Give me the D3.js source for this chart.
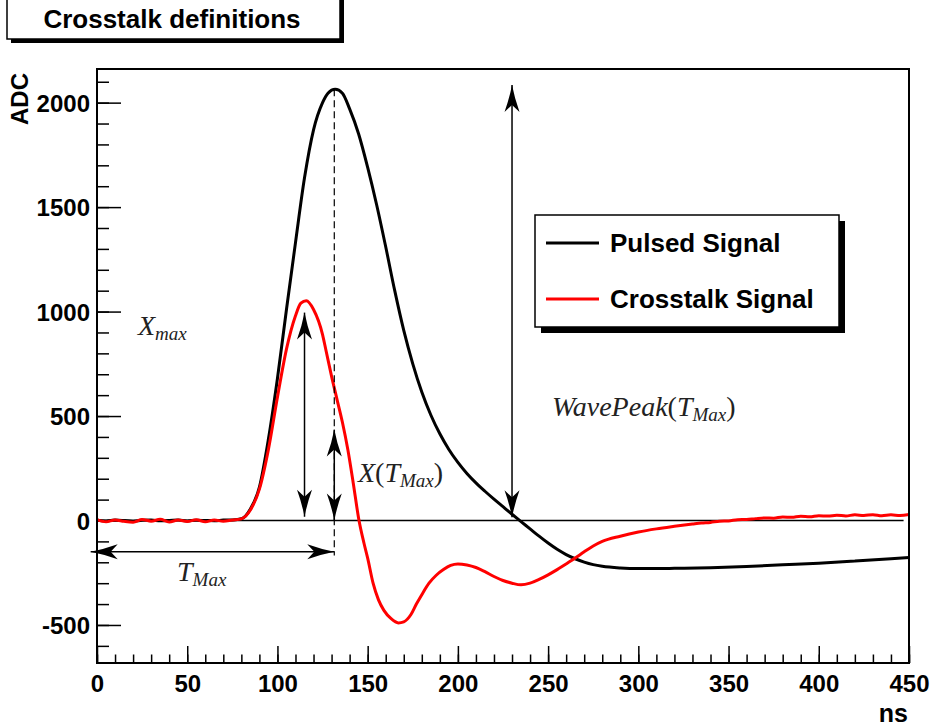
<!DOCTYPE html>
<html>
<head>
<meta charset="utf-8">
<script src="https://cdn.jsdelivr.net/npm/d3@7"></script>
<style>
  body { margin: 0; background: #fff; }
  .chart text { font-family: 'Liberation Sans', Arial, sans-serif; font-weight: bold; fill: #000; }
  .chart text.math { font-family: 'Liberation Serif', 'Times New Roman', serif; font-weight: normal; font-style: italic; fill: #222; }
</style>
</head>
<body>
<div class="chart"></div>
<script>
// pulsed (black) signal
const pulsed_ns = [0, 5, 10, 15, 20, 25, 30, 35, 40, 45, 50, 55, 60, 65, 70, 75,
  80, 85, 90, 95, 100, 105, 110, 115, 120, 125, 128, 132, 136, 140, 145, 150, 155, 160,
  165, 170, 175, 180, 185, 190, 195, 200, 205, 210, 215, 220, 225, 230, 235, 240, 245,
  250, 255, 260, 265, 270, 275, 280, 290, 300, 310, 320, 340, 360, 380, 400, 420, 440, 450];
const pulsed_adc = [1, -2, 2, 0, -3, 1, 2, -1, 0, 2, -2, 1, 0, -1, 2, 3,
  8, 55, 160, 390, 680, 1010, 1330, 1640, 1870, 2000, 2045, 2064, 2045, 1970, 1850, 1690, 1510, 1310,
  1100, 910, 750, 615, 505, 415, 340, 278, 225, 180, 140, 102, 66, 30, -5, -40, -75,
  -108, -138, -163, -183, -199, -211, -219, -227, -230, -230, -229, -226, -220, -212, -204, -194, -183, -177];

// crosstalk (red) signal
const crosstalk_ns = [0, 5, 10, 15, 20, 25, 30, 35, 40, 45, 50, 55, 60, 65, 70, 75,
  80, 85, 90, 95, 100, 105, 110, 113, 116, 120, 125, 127, 130, 133, 136, 139, 142, 145, 148,
  150, 153, 156, 159, 163, 167, 170, 174, 177, 180, 184, 188, 192, 196, 200, 205, 210, 215,
  220, 225, 230, 235, 240, 245, 250, 255, 260, 265, 270, 275, 280, 290, 300, 310, 320,
  330, 335, 340, 345, 350, 355, 360, 365, 370, 375, 380, 385, 390, 395, 400, 405, 410,
  415, 420, 425, 430, 435, 440, 445, 450];
const crosstalk_adc = [4, -6, 3, -4, -8, 5, -3, 6, -7, 2, -5, 4, -6, 3, -4, 2,
  8, 50, 150, 340, 590, 820, 980, 1040, 1052, 1010, 890, 810, 690, 580, 470, 340, 180, 10, -110,
  -180, -300, -380, -430, -470, -490, -485, -450, -400, -355, -300, -262, -235, -215, -208, -213, -225, -245,
  -268, -287, -300, -308, -300, -282, -260, -235, -208, -180, -150, -122, -100, -75, -55, -40, -28,
  -17, -12, -9, -3, -2, 4, 5, 9, 12, 11, 17, 15, 20, 18, 23, 21, 25,
  22, 27, 24, 28, 23, 27, 24, 29];

const x_ticks = [0, 50, 100, 150, 200, 250, 300, 350, 400, 450];
const y_ticks = [-500, 0, 500, 1000, 1500, 2000];
const series_names = ['Pulsed Signal', 'Crosstalk Signal'];
const series_colors = ['#000000', '#ff0000'];

// annotation values (ns, ADC)
const t_max = 131.5;
const pulsed_peak = 2064;
const arrow_list = [
  { x1: 230, y1: 15, x2: 230, y2: 2085 },
  { x1: 115, y1: 18, x2: 115, y2: 995 },
  { x1: t_max, y1: 0, x2: t_max, y2: 435 },
  { x1: -3.5, y1: -150, x2: t_max, y2: -150 },
];

const width = 930;
const height = 727;

const margin = { top: 69, right: 21, bottom: 64, left: 97 };
const chart_width = width - margin.left - margin.right;
const chart_height = height - margin.top - margin.bottom;

const svg = d3
  .select('.chart')
  .append('svg')
  .attr('width', width)
  .attr('height', height);

const x = d3.scaleLinear().domain([0, 450]).range([0, chart_width]);
const y = d3.scaleLinear().domain([-682, 2161]).range([chart_height, 0]);

const focus = svg
  .append('g')
  .attr('transform', 'translate(' + margin.left + ',' + margin.top + ')');

// minor ticks
focus
  .append('g')
  .attr('transform', 'translate(0,' + chart_height + ')')
  .call(d3.axisBottom(x).tickValues(d3.range(0, 451, 10)).tickSize(-8.5).tickFormat(''))
  .call(g => g.select('.domain').remove());

focus
  .append('g')
  .call(d3.axisLeft(y).tickValues(d3.range(-600, 2161, 100)).tickSize(-12).tickFormat(''))
  .call(g => g.select('.domain').remove());

// major ticks + labels
const xAxis = focus
  .append('g')
  .attr('class', 'axis axis--x')
  .attr('transform', 'translate(0,' + chart_height + ')')
  .call(d3.axisBottom(x).tickValues(x_ticks).tickSize(-17).tickPadding(12).tickFormat(d => String(d)));
xAxis.select('.domain').remove();
xAxis.selectAll('text').style('font-size', '24px');

const yAxis = focus
  .append('g')
  .attr('class', 'axis axis--y')
  .call(d3.axisLeft(y).tickValues(y_ticks).tickSize(-24).tickPadding(7).tickFormat(d => String(d)));
yAxis.select('.domain').remove();
yAxis.selectAll('text').style('font-size', '24px').attr('dy', '0.36em');

focus.selectAll('.tick line').attr('stroke', '#000').attr('stroke-width', 1.5);

// zero line
focus
  .append('line')
  .attr('x1', x(0))
  .attr('x2', x(447))
  .attr('y1', y(0))
  .attr('y2', y(0))
  .attr('stroke', '#000')
  .attr('stroke-width', 1.5);

const line = d3
  .line()
  .curve(d3.curveMonotoneX)
  .x(d => x(d[0]))
  .y(d => y(d[1]));

focus
  .append('path')
  .datum(d3.zip(pulsed_ns, pulsed_adc))
  .attr('d', line)
  .attr('fill', 'none')
  .attr('stroke', series_colors[0])
  .attr('stroke-width', 3);

focus
  .append('path')
  .datum(d3.zip(crosstalk_ns, crosstalk_adc))
  .attr('d', line)
  .attr('fill', 'none')
  .attr('stroke', series_colors[1])
  .attr('stroke-width', 3);

// dashed line at T_max
focus
  .append('line')
  .attr('x1', x(t_max))
  .attr('x2', x(t_max))
  .attr('y1', y(pulsed_peak))
  .attr('y2', y(-168))
  .attr('stroke', '#000')
  .attr('stroke-width', 1.2)
  .attr('stroke-dasharray', '7,4');

// double arrows
const head = 'M0,0 Q-2.5,13 -7.5,27 L0,20 L7.5,27 Q2.5,13 0,0 Z';
arrow_list.forEach(function(a) {
  const px1 = x(a.x1), py1 = y(a.y1), px2 = x(a.x2), py2 = y(a.y2);
  focus
    .append('line')
    .attr('x1', px1)
    .attr('y1', py1)
    .attr('x2', px2)
    .attr('y2', py2)
    .attr('stroke', '#000')
    .attr('stroke-width', 1.5);
  const ang = Math.atan2(py2 - py1, px2 - px1) * 180 / Math.PI;
  // head at end 2 points along the line direction, head at end 1 points back
  focus
    .append('path')
    .attr('d', head)
    .attr('transform', 'translate(' + px2 + ',' + py2 + ') rotate(' + (ang - 90 + 180) + ')');
  focus
    .append('path')
    .attr('d', head)
    .attr('transform', 'translate(' + px1 + ',' + py1 + ') rotate(' + (ang - 90) + ')');
});

// frame
focus
  .append('rect')
  .attr('width', chart_width)
  .attr('height', chart_height)
  .attr('fill', 'none')
  .attr('stroke', '#000')
  .attr('stroke-width', 2);

// latex-like labels
function mathLabel(px, py, parts) {
  const t = svg.append('text').attr('class', 'math').attr('x', px).attr('y', py);
  parts.forEach(function(p) {
    t.append('tspan')
      .attr('dy', p.dy || 0)
      .style('font-size', (p.sub ? 19 : 28) + 'px')
      .style('font-style', p.up ? 'normal' : 'italic')
      .text(p.s);
  });
}
mathLabel(138, 335, [{ s: 'X' }, { s: 'max', sub: true, dy: 5 }]);
mathLabel(358, 482, [{ s: 'X' }, { s: '(', up: true }, { s: 'T' }, { s: 'Max', sub: true, dy: 5 }, { s: ')', up: true, dy: -5 }]);
mathLabel(552, 416, [{ s: 'WavePeak' }, { s: '(', up: true }, { s: 'T' }, { s: 'Max', sub: true, dy: 5 }, { s: ')', up: true, dy: -5 }]);
mathLabel(177, 581, [{ s: 'T' }, { s: 'Max', sub: true, dy: 5 }]);

// axis titles
svg
  .append('text')
  .attr('text-anchor', 'end')
  .attr('transform', 'translate(28,73) rotate(-90)')
  .style('font-size', '24px')
  .text('ADC');

svg
  .append('text')
  .attr('text-anchor', 'end')
  .attr('x', 908)
  .attr('y', 722)
  .style('font-size', '25px')
  .text('ns');

// legend
const legend = svg.append('g').attr('transform', 'translate(535,215)');
legend.append('rect').attr('x', 6).attr('y', 6).attr('width', 304).attr('height', 112).attr('fill', '#000');
legend
  .append('rect')
  .attr('width', 304)
  .attr('height', 112)
  .attr('fill', '#fff')
  .attr('stroke', '#000')
  .attr('stroke-width', 1.5);
series_names.forEach(function(name, i) {
  legend
    .append('line')
    .attr('x1', 11)
    .attr('x2', 64)
    .attr('y1', 28 + i * 56)
    .attr('y2', 28 + i * 56)
    .attr('stroke', series_colors[i])
    .attr('stroke-width', 3);
  legend
    .append('text')
    .attr('x', 75)
    .attr('y', 37 + i * 56)
    .style('font-size', '26px')
    .text(name);
});

// title box
const title = svg.append('g');
title.append('rect').attr('x', 11).attr('y', -10).attr('width', 333).attr('height', 53).attr('fill', '#000');
title
  .append('rect')
  .attr('x', 7)
  .attr('y', -14)
  .attr('width', 333)
  .attr('height', 53)
  .attr('fill', '#fff')
  .attr('stroke', '#000')
  .attr('stroke-width', 1.5);
title
  .append('text')
  .attr('x', 172)
  .attr('y', 28)
  .attr('text-anchor', 'middle')
  .style('font-size', '26px')
  .text('Crosstalk definitions');
</script>
</body>
</html>
